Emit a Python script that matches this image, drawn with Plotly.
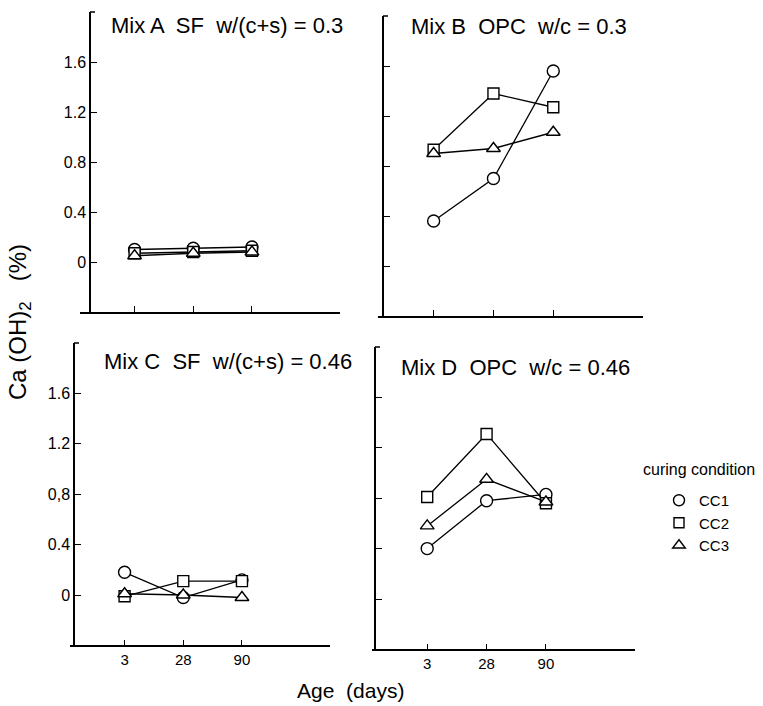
import plotly.graph_objects as go

# ---------------- data ----------------
ages = ["3", "28", "90"]          # age (days), equally spaced categories
age_pos = [0, 1, 2]
conditions = ["CC1", "CC2", "CC3"]

mixA_cc1 = [0.10, 0.11, 0.12]
mixA_cc2 = [0.07, 0.08, 0.09]
mixA_cc3 = [0.05, 0.07, 0.08]

mixB_cc1 = [0.36, 0.70, 1.56]
mixB_cc2 = [0.93, 1.38, 1.27]
mixB_cc3 = [0.90, 0.94, 1.07]

mixC_cc1 = [0.18, -0.02, 0.12]
mixC_cc2 = [-0.01, 0.11, 0.11]
mixC_cc3 = [0.01, 0.00, -0.02]

mixD_cc1 = [0.40, 0.78, 0.83]
mixD_cc2 = [0.81, 1.31, 0.76]
mixD_cc3 = [0.58, 0.95, 0.77]

ytick_vals = [0, 0.4, 0.8, 1.2, 1.6]
ytick_text_A = ["0", "0.4", "0.8", "1.2", "1.6"]
ytick_text_C = ["0", "0.4", "0,8", "1.2", "1.6"]

titles = ["Mix A  SF  w/(c+s) = 0.3", "Mix B  OPC  w/c = 0.3",
          "Mix C  SF  w/(c+s) = 0.46", "Mix D  OPC  w/c = 0.46"]
series = [
    [mixA_cc1, mixA_cc2, mixA_cc3],
    [mixB_cc1, mixB_cc2, mixB_cc3],
    [mixC_cc1, mixC_cc2, mixC_cc3],
    [mixD_cc1, mixD_cc2, mixD_cc3],
]

# ---------------- layout geometry (pixels) ----------------
W, H = 763, 706
XR = [-0.93, 3.5]
YR = [-0.4, 2.0]
geo = [
    dict(xl=80, xr=340, yx=90, y0=262, ppu=125, ylab=ytick_text_A, xlab=False, tx=109, ty=25),
    dict(xl=378, xr=643, yx=383, y0=266, ppu=125, ylab=None, xlab=False, tx=409, ty=27),
    dict(xl=70, xr=330, yx=74, y0=595, ppu=126, ylab=ytick_text_C, xlab=True, tx=102, ty=362),
    dict(xl=372, xr=635, yx=375, y0=599, ppu=126, ylab=None, xlab=True, tx=399, ty=367),
]

symbols = ["circle", "square", "triangle-up"]
msizes = [12, 11, 12]
FONT = "Liberation Sans"

fig = go.Figure()
shapes = []
annotations = []

for i, (g, sers) in enumerate(zip(geo, series)):
    n = "" if i == 0 else str(i + 1)
    xa, ya = "x" + n, "y" + n
    for j, vals in enumerate(sers):
        fig.add_trace(go.Scatter(
            x=age_pos, y=vals, mode="lines+markers", xaxis=xa, yaxis=ya,
            showlegend=False, name=conditions[j],
            line=dict(color="black", width=1.3),
            marker=dict(symbol=symbols[j], size=msizes[j], color="white",
                        line=dict(color="black", width=1.4)),
        ))
    ybot = g["y0"] - YR[0] * g["ppu"]
    ytop = g["y0"] - YR[1] * g["ppu"]
    xdom = [g["xl"] / W, g["xr"] / W]
    ydom = [1 - ybot / H, 1 - ytop / H]
    fig.layout["xaxis" + n] = dict(
        domain=xdom, range=XR, anchor=ya, showgrid=False, zeroline=False,
        showline=True, linecolor="black", linewidth=1.5,
        ticks="inside", ticklen=6, tickwidth=1.3, tickcolor="black",
        tickvals=age_pos, ticktext=ages, showticklabels=g["xlab"],
        tickfont=dict(family=FONT, size=15, color="black"),
    )
    yax = dict(
        domain=ydom, range=YR, anchor="free", position=g["yx"] / W,
        showgrid=False, zeroline=False,
        showline=True, linecolor="black", linewidth=1.5,
        ticks="inside", ticklen=6, tickwidth=1.3, tickcolor="black",
        tickvals=ytick_vals, showticklabels=bool(g["ylab"]),
        tickfont=dict(family=FONT, size=16, color="black"),
    )
    if g["ylab"]:
        yax["ticktext"] = g["ylab"]
    fig.layout["yaxis" + n] = yax
    # small hook at top of y axis
    shapes.append(dict(type="line", xref="paper", yref="paper",
                       x0=g["yx"] / W, x1=(g["yx"] + 5) / W,
                       y0=1 - ytop / H, y1=1 - ytop / H,
                       line=dict(color="black", width=1.5)))
    annotations.append(dict(
        text=titles[i], xref="paper", yref="paper",
        x=g["tx"] / W, y=1 - g["ty"] / H, xanchor="left", yanchor="middle",
        showarrow=False, font=dict(family=FONT, size=22, color="black")))

# legend-only traces
for j in range(3):
    fig.add_trace(go.Scatter(
        x=[None], y=[None], mode="markers", name=conditions[j],
        xaxis="x4", yaxis="y4", showlegend=True,
        marker=dict(symbol=symbols[j], size=msizes[j] - 1, color="white",
                    line=dict(color="black", width=1.4)),
    ))

annotations.append(dict(
    text="curing condition", xref="paper", yref="paper",
    x=641 / W, y=1 - 469 / H, xanchor="left", yanchor="middle",
    showarrow=False, font=dict(family=FONT, size=16, color="black")))
annotations.append(dict(
    text="Ca (OH)<sub>2</sub>   (%)", xref="paper", yref="paper",
    x=20 / W, y=1 - 322 / H, xanchor="center", yanchor="middle",
    textangle=-90, showarrow=False,
    font=dict(family=FONT, size=24, color="black")))
annotations.append(dict(
    text="Age  (days)", xref="paper", yref="paper",
    x=350 / W, y=1 - 690 / H, xanchor="center", yanchor="middle",
    showarrow=False, font=dict(family=FONT, size=21, color="black")))

fig.update_layout(
    width=W, height=H, margin=dict(l=0, r=0, t=0, b=0),
    paper_bgcolor="white", plot_bgcolor="white",
    shapes=shapes, annotations=annotations,
    legend=dict(x=(681 - 22) / W, y=1 - 484 / H, xanchor="left", yanchor="top",
                font=dict(family=FONT, size=15, color="black"),
                bgcolor="rgba(0,0,0,0)", itemwidth=30),
)

fig.write_html("out.html")
